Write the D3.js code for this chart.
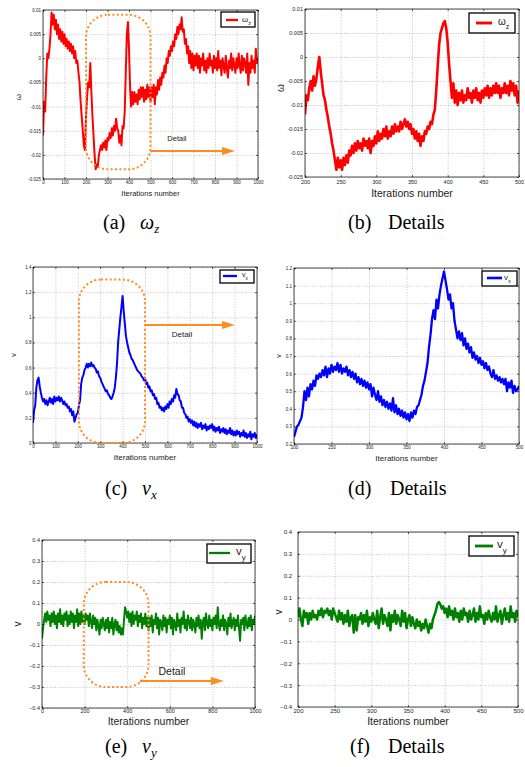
<!DOCTYPE html>
<html>
<head>
<meta charset="utf-8">
<script src="https://cdn.jsdelivr.net/npm/d3@7"></script>
<style>
  body { margin: 0; background: #fff; }
  svg { display: block; }
  .cap { font-family: "Liberation Serif", "Times New Roman", serif; }
</style>
</head>
<body>
<svg width="525" height="767"></svg>
<script>
// full runs: one sample every 5 iterations from 0 to 1000
// detail runs: one sample every 2 iterations from 200 to 500
const FULL_STEP = 5, DETAIL_START = 200, DETAIL_STEP = 2;

// omega_z, in units of 1e-3
const wzFull = [
  -16,-9,-11,-4,1,0,2,5,9.5,7,9,6,8,5,7,4,6,3.5,5.5,3,
  5,2.5,4,2,3.5,1.5,3,1,2.5,0,1.5,-1,-0.5,-3,-5,-9,-12,-15,-18,-19,
  -12,-8,-5,-6,-1,-7,-12,-16,-20,-23,-22,-22.5,-20,-19,-18,-19,-17.5,-18.5,-17,-19,
  -16.5,-17,-15.5,-16.5,-14.5,-16,-14,-15,-12.5,-14.5,-15,-17.5,-16,-18,-14,-14.5,-11,-3,5,7.5,
  2,-6,-10,-7,-9.5,-7,-9,-7.5,-9.5,-6.5,-8.5,-6,-8,-6,-9,-6.5,-8.5,-5.5,-8,-6,
  -9,-6,-8,-5.5,-9.5,-6,-7.5,-4.5,-6.5,-4,-5.5,-3,-4,-1.5,-3,0,-1,1.5,0.5,2.5,
  1.5,3.5,2.5,5,4,6.5,5,7,6,8.5,5.5,6,3,4,1,2.5,-1,1.5,-2,1,
  -2.5,0.5,-1.5,1,-2,0.5,-3,0,-1.5,1,-2.5,-0.5,-3,0,-2,1,-1.5,-0.5,-3,0.5,
  -2,0,-2.5,1.5,-2,-0.5,-3.5,0,-1.5,-3,0.5,-2,-4,-0.5,-2,1,-2.5,0,-1.5,-3,
  0,-2,1,-1.5,-3,0.5,-2.5,0,-1,-3,1,-5.5,-1,-3,0.5,-2,-0.5,-3,2,-1,
  0
];
const wzDetail = [
  -12,-8,-9,-6.5,-5,-7,-4,-6,-4.5,-2,
  0,-3,-5.5,-8,-9,-11,-12.5,-14.5,-16,-18,
  -19.5,-21.5,-23.5,-21,-23,-21.5,-23.5,-21,-22.5,-20.5,
  -22,-19.5,-20.5,-18.5,-20,-18,-19.5,-17.5,-19,-18,
  -19.5,-17,-18.5,-17.5,-19,-17,-20,-17.5,-18.5,-16.5,
  -18,-15.5,-17.5,-16,-17,-15,-16.5,-14.5,-17,-15.5,
  -16.5,-14.5,-16,-14,-15.5,-14.5,-15.5,-13.5,-15,-14,
  -13,-14.5,-13.5,-15,-14,-16,-15,-17,-15.5,-17.5,
  -16,-18.5,-16.5,-17.5,-15.5,-16,-14.5,-15,-13.5,-14,
  -12,-11,-7,-2,2.5,5,6,7,7.5,6,
  3,-1.5,-5,-8.5,-5.5,-9.5,-7,-10,-7.5,-9,
  -7,-9.5,-8,-9,-6.5,-8.5,-7.5,-9.5,-7,-8.5,
  -6.5,-9,-7.5,-9.5,-7,-8.5,-6.5,-8,-6,-8.5,
  -6.5,-8,-6,-7.5,-5.5,-7.5,-6,-8.5,-6.5,-7.5,
  -5.5,-7.5,-6,-8,-5,-7,-5.5,-8,-6,-9.5,
  -7
];

const vxFull = [
  0.16,0.26,0.3,0.44,0.5,0.52,0.45,0.4,0.36,0.33,0.35,0.31,0.34,0.3,0.33,0.36,0.32,0.35,0.31,0.37,
  0.33,0.36,0.34,0.37,0.33,0.36,0.34,0.31,0.33,0.3,0.31,0.28,0.29,0.25,0.27,0.22,0.25,0.17,0.2,0.23,
  0.24,0.3,0.34,0.47,0.52,0.54,0.58,0.6,0.63,0.6,0.63,0.61,0.64,0.61,0.62,0.6,0.59,0.56,0.57,0.53,
  0.52,0.49,0.47,0.45,0.43,0.41,0.42,0.39,0.38,0.36,0.35,0.37,0.4,0.44,0.52,0.63,0.8,0.9,1.0,1.08,
  1.17,1.05,0.95,0.85,0.8,0.76,0.72,0.7,0.67,0.66,0.64,0.62,0.6,0.58,0.57,0.56,0.55,0.53,0.52,0.5,
  0.52,0.47,0.48,0.44,0.45,0.41,0.42,0.38,0.39,0.35,0.36,0.31,0.32,0.28,0.29,0.26,0.28,0.25,0.29,0.27,
  0.31,0.28,0.33,0.31,0.35,0.33,0.38,0.36,0.43,0.39,0.38,0.34,0.33,0.28,0.28,0.24,0.23,0.2,0.21,0.17,
  0.19,0.16,0.18,0.14,0.17,0.13,0.16,0.12,0.15,0.13,0.16,0.11,0.14,0.12,0.15,0.1,0.13,0.11,0.14,0.12,
  0.15,0.1,0.13,0.09,0.12,0.1,0.13,0.08,0.11,0.09,0.12,0.08,0.11,0.07,0.1,0.08,0.12,0.07,0.1,0.06,
  0.09,0.06,0.1,0.07,0.09,0.05,0.08,0.06,0.1,0.05,0.08,0.04,0.07,0.05,0.09,0.03,0.07,0.05,0.08,0.04,
  0.07
];
const vxDetail = [
  0.24,0.27,0.3,0.31,0.33,0.35,0.41,0.5,0.45,0.52,
  0.47,0.54,0.51,0.56,0.53,0.59,0.57,0.6,0.58,0.62,
  0.59,0.64,0.58,0.63,0.6,0.65,0.61,0.64,0.62,0.66,
  0.61,0.65,0.6,0.63,0.61,0.64,0.59,0.62,0.58,0.61,
  0.57,0.6,0.55,0.58,0.54,0.57,0.53,0.56,0.52,0.55,
  0.51,0.54,0.47,0.52,0.48,0.45,0.5,0.44,0.47,0.42,
  0.45,0.41,0.44,0.4,0.43,0.39,0.46,0.38,0.42,0.37,
  0.4,0.36,0.39,0.35,0.38,0.34,0.37,0.33,0.38,0.35,
  0.39,0.37,0.41,0.42,0.45,0.48,0.53,0.56,0.61,0.66,
  0.75,0.82,0.91,0.96,0.91,1.02,0.97,1.05,1.1,1.14,
  1.18,1.13,1.08,1.02,1.05,0.97,1.0,0.9,0.85,0.8,
  0.84,0.79,0.83,0.76,0.8,0.74,0.77,0.72,0.75,0.69,
  0.72,0.68,0.7,0.66,0.69,0.65,0.67,0.63,0.66,0.62,
  0.64,0.6,0.58,0.62,0.57,0.59,0.56,0.58,0.55,0.57,
  0.54,0.57,0.5,0.55,0.52,0.56,0.49,0.53,0.5,0.51,
  0.53
];

const vyFull = [
  -0.07,-0.02,0.02,0.05,0.01,0.06,0.02,0.04,-0.01,0.05,0.01,0.06,0.0,0.04,-0.02,0.05,0.01,0.07,0.0,0.04,
  -0.01,0.05,0.02,0.06,-0.01,0.04,0.0,0.06,0.01,0.05,-0.02,0.04,0.01,0.07,-0.01,0.05,0.0,0.06,0.01,0.04,
  0.0,0.05,0.02,0.04,-0.01,0.05,0.01,-0.02,0.04,0.0,0.03,-0.03,0.02,-0.01,-0.05,0.02,-0.02,0.03,0.0,-0.03,
  0.02,-0.02,0.03,-0.04,0.01,-0.02,0.03,-0.05,0.0,0.02,-0.03,0.01,-0.04,-0.01,-0.05,-0.02,-0.05,0.02,0.08,0.06,
  0.03,0.06,0.01,0.05,-0.01,0.06,0.0,0.04,0.02,0.06,-0.01,0.04,0.01,0.05,-0.02,0.03,0.0,0.05,-0.01,0.03,
  -0.03,0.03,-0.01,0.04,-0.04,0.02,0.0,0.05,-0.02,0.03,-0.05,0.02,0.01,-0.03,0.04,-0.01,0.03,-0.04,0.02,0.0,
  0.04,-0.02,0.03,-0.05,0.02,0.0,-0.03,0.05,-0.01,0.02,-0.04,0.03,0.0,0.06,-0.02,0.02,-0.03,0.04,0.01,-0.02,
  0.03,-0.03,0.02,0.0,-0.04,0.03,-0.01,0.04,-0.02,0.02,-0.07,0.01,0.03,-0.03,0.05,0.0,-0.02,0.04,-0.01,0.02,
  -0.03,0.03,0.0,0.04,-0.02,0.08,0.0,-0.03,0.02,-0.01,0.04,-0.03,0.02,0.0,-0.05,0.03,-0.01,0.05,-0.02,0.01,
  0.03,-0.03,0.02,-0.01,0.04,-0.02,-0.08,0.02,0.0,0.03,-0.03,0.04,0.0,-0.02,0.03,-0.01,0.04,-0.03,0.02,0.0,
  0.04
];
const vyDetail = [
  0.01,0.05,0.0,-0.03,0.04,0.01,0.03,-0.02,0.03,0.0,
  0.04,0.01,0.02,0.0,0.04,0.02,0.05,0.01,0.04,0.03,
  0.05,0.02,0.04,0.0,0.05,0.03,0.01,-0.01,0.04,0.0,
  0.03,-0.02,0.02,-0.01,0.04,-0.03,0.01,0.02,-0.06,0.02,
  -0.05,0.01,0.0,0.03,-0.02,0.02,-0.01,0.04,-0.03,0.01,
  -0.01,0.03,0.0,-0.02,0.04,-0.04,0.01,0.05,-0.02,0.02,
  0.0,-0.03,0.03,-0.05,0.02,-0.01,0.04,-0.02,0.02,0.0,
  -0.03,0.04,-0.01,0.03,-0.04,0.0,0.02,-0.03,0.01,-0.02,
  -0.04,0.0,-0.03,-0.01,-0.05,-0.02,-0.04,0.0,-0.03,-0.06,
  -0.02,-0.04,0.0,0.02,0.04,0.07,0.08,0.07,0.05,0.06,
  0.03,0.05,0.01,0.06,0.02,0.04,0.0,0.05,0.01,0.03,
  -0.01,0.04,0.0,0.05,0.02,0.03,-0.01,0.04,0.0,0.02,
  0.05,-0.01,0.03,0.0,0.06,0.01,0.02,-0.02,0.03,0.0,
  0.04,0.01,-0.01,0.03,0.0,0.06,-0.01,0.02,0.04,-0.02,
  0.02,0.05,0.0,0.03,-0.01,0.06,0.01,0.03,-0.01,0.04,
  0.01
];

// tick values
const xTicksFull = d3.range(0, 1001, 100);
const xTicksFullE = d3.range(0, 1001, 200);
const xTicksDetail = d3.range(200, 501, 50);
const wTicks = d3.range(-25, 11, 5).map(v => v / 1000);
const vxTicksFull = d3.range(0, 15, 2).map(v => v / 10);
const vxTicksDetail = d3.range(2, 13).map(v => v / 10);
const vyTicks = d3.range(-4, 5).map(v => v / 10);

const RED = '#ff0000', BLUE = '#0000ff', GREEN = '#008000', ORANGE = '#ff8c1e';
const SANS = '"Liberation Sans", Arial, Helvetica, sans-serif';

let panels = [
  { id: 'a', box: [43, 10, 258, 179], xd: [0, 1000], yd: [-0.025, 0.01], xt: xTicksFull, yt: wTicks,
    values: wzFull.map(v => v / 1000), start: 0, step: FULL_STEP, color: RED, lw: 2,
    tickFs: 4.5, xPad: 2, yPad: 2, xlab: { fs: 7.5, y: 196 }, ylab: { t: 'ω', x: 21, y: 97, fs: 8 },
    legend: { box: [221, 12, 255, 27], line: [226, 238], ly: 20, lx: 242, fs: 8, main: 'ω', sub: 'z' },
    note: { x: [200, 500], y: [0.009, -0.023], ax: [500, 893], ay: -0.0192, tx: 623, ty: -0.0171, fs: 7.5 } },
  { id: 'b', box: [305, 9, 519, 177], xd: [200, 500], yd: [-0.025, 0.01], xt: xTicksDetail, yt: wTicks,
    values: wzDetail.map(v => v / 1000), start: DETAIL_START, step: DETAIL_STEP, color: RED, lw: 2.6,
    tickFs: 5.5, xPad: 3, yPad: 2, xlab: { fs: 10.5, y: 197 }, ylab: { t: 'ω', x: 284, y: 88, fs: 10 },
    legend: { box: [469, 13, 515, 33], line: [476, 492], ly: 23, lx: 498, fs: 10, main: 'ω', sub: 'z' } },
  { id: 'c', box: [33, 267, 257, 443], xd: [0, 1000], yd: [0, 1.4], xt: xTicksFull, yt: vxTicksFull,
    values: vxFull, start: 0, step: FULL_STEP, color: BLUE, lw: 2,
    tickFs: 4.5, xPad: 2, yPad: 1.5, xlab: { fs: 8, y: 460 }, ylab: { t: 'v', x: 16, y: 355, fs: 7 },
    legend: { box: [220, 270, 254, 283], line: [223, 237], ly: 276, lx: 242, fs: 7, main: 'v', sub: 'x' },
    note: { x: [205, 500], y: [1.3, 0], ax: [500, 902], ay: 0.939, tx: 665, ty: 0.843, fs: 8 } },
  { id: 'd', box: [294, 268, 519, 444], xd: [200, 500], yd: [0.2, 1.2], xt: xTicksDetail, yt: vxTicksDetail,
    values: vxDetail, start: DETAIL_START, step: DETAIL_STEP, color: BLUE, lw: 2.3,
    tickFs: 4.5, xPad: 2, yPad: 2, xlab: { fs: 8, y: 461 }, ylab: { t: 'v', x: 281, y: 356, fs: 7 },
    legend: { box: [482, 271, 517, 286], line: [487, 502], ly: 278, lx: 504, fs: 8, main: 'v', sub: 'x' } },
  { id: 'e', box: [42, 540, 255, 708], xd: [0, 1000], yd: [-0.4, 0.4], xt: xTicksFullE, yt: vyTicks,
    values: vyFull, start: 0, step: FULL_STEP, color: GREEN, lw: 2, minus: true,
    tickFs: 5.5, xPad: 1.5, yPad: 2, xlab: { fs: 10.5, y: 725 }, ylab: { t: 'v', x: 21, y: 624, fs: 10 },
    legend: { box: [207, 544, 251, 563], line: [209, 230], ly: 553, lx: 236, fs: 11.5, main: 'v', sub: 'y' },
    note: { x: [196, 500], y: [0.2, -0.3], ax: [460, 854], ay: -0.271, tx: 610, ty: -0.243, fs: 10.5 } },
  { id: 'f', box: [298, 532, 518, 707], xd: [200, 500], yd: [-0.4, 0.4], xt: xTicksDetail, yt: vyTicks,
    values: vyDetail, start: DETAIL_START, step: DETAIL_STEP, color: GREEN, lw: 2.5, minus: true,
    tickFs: 6, xPad: 2, yPad: 6, xlab: { fs: 10.5, y: 725 }, ylab: { t: 'v', x: 282, y: 612, fs: 10 },
    legend: { box: [469, 536, 514, 556], line: [475, 493], ly: 546, lx: 497, fs: 11.5, main: 'v', sub: 'y' } }
];

let captions = [
  { x: 103, y: 229, tag: '(a)', x2: 140, main: 'ω', sub: 'z' },
  { x: 348, y: 229, tag: '(b)', x2: 388, main: 'Details' },
  { x: 105, y: 495, tag: '(c)', x2: 142, main: 'v', sub: 'x' },
  { x: 348, y: 495, tag: '(d)', x2: 390, main: 'Details' },
  { x: 105, y: 753, tag: '(e)', x2: 142, main: 'v', sub: 'y' },
  { x: 350, y: 753, tag: '(f)', x2: 388, main: 'Details' }
];

let svg = d3.select('svg');

function fmtTick(d, minus) {
  let s = String(+d.toFixed(4));
  return minus ? s.replace('-', '\u2212') : s;
}

function drawPanel(p) {
  let [x0, y0, x1, y1] = p.box;
  let sx = d3.scaleLinear().domain(p.xd).range([x0, x1]);
  let sy = d3.scaleLinear().domain(p.yd).range([y1, y0]);
  let g = svg.append('g').attr('class', 'panel-' + p.id);

  // dotted grid
  let gx = g.append('g').attr('transform', `translate(0,${y1})`)
    .call(d3.axisBottom(sx).tickValues(p.xt).tickSize(-(y1 - y0)).tickFormat(''));
  let gy = g.append('g').attr('transform', `translate(${x0},0)`)
    .call(d3.axisLeft(sy).tickValues(p.yt).tickSize(-(x1 - x0)).tickFormat(''));
  [gx, gy].forEach(a => {
    a.select('.domain').remove();
    a.selectAll('line').attr('stroke', '#9c9c9c').attr('stroke-width', 0.6).attr('stroke-dasharray', '1,1.6');
  });

  // data line
  svg.append('clipPath').attr('id', 'clip-' + p.id)
    .append('rect').attr('x', x0).attr('y', y0).attr('width', x1 - x0).attr('height', y1 - y0);
  let line = d3.line()
    .x((v, i) => sx(p.start + i * p.step))
    .y(v => sy(v));
  g.append('path')
    .datum(p.values)
    .attr('d', line)
    .attr('fill', 'none')
    .attr('stroke', p.color)
    .attr('stroke-width', p.lw)
    .attr('stroke-linejoin', 'round')
    .attr('clip-path', `url(#clip-${p.id})`);

  // frame
  g.append('rect').attr('x', x0).attr('y', y0).attr('width', x1 - x0).attr('height', y1 - y0)
    .attr('fill', 'none').attr('stroke', '#000').attr('stroke-width', 0.7);

  // axes with inward ticks
  let ax = g.append('g').attr('transform', `translate(0,${y1})`)
    .call(d3.axisBottom(sx).tickValues(p.xt).tickSizeInner(-2).tickSizeOuter(0).tickPadding(p.xPad)
      .tickFormat(d => fmtTick(d, p.minus)));
  let ay = g.append('g').attr('transform', `translate(${x0},0)`)
    .call(d3.axisLeft(sy).tickValues(p.yt).tickSizeInner(-2).tickSizeOuter(0).tickPadding(p.yPad)
      .tickFormat(d => fmtTick(d, p.minus)));
  let axTop = g.append('g').attr('transform', `translate(0,${y0})`)
    .call(d3.axisTop(sx).tickValues(p.xt).tickSizeInner(-2).tickSizeOuter(0).tickFormat(''));
  let ayRight = g.append('g').attr('transform', `translate(${x1},0)`)
    .call(d3.axisRight(sy).tickValues(p.yt).tickSizeInner(-2).tickSizeOuter(0).tickFormat(''));
  [ax, ay, axTop, ayRight].forEach(a => {
    a.select('.domain').remove();
    a.attr('font-size', p.tickFs).attr('font-family', SANS);
    a.selectAll('line').attr('stroke', '#000').attr('stroke-width', 0.6);
    a.selectAll('text').attr('fill', '#222');
  });

  // axis titles
  g.append('text')
    .attr('x', (x0 + x1) / 2).attr('y', p.xlab.y)
    .attr('text-anchor', 'middle')
    .attr('font-family', SANS).attr('font-size', p.xlab.fs).attr('fill', '#222')
    .text('Iterations number');
  g.append('text')
    .attr('transform', `translate(${p.ylab.x},${p.ylab.y}) rotate(-90)`)
    .attr('text-anchor', 'middle')
    .attr('font-family', SANS).attr('font-size', p.ylab.fs).attr('fill', '#222')
    .text(p.ylab.t);

  // legend
  let lg = p.legend;
  g.append('rect')
    .attr('x', lg.box[0]).attr('y', lg.box[1])
    .attr('width', lg.box[2] - lg.box[0]).attr('height', lg.box[3] - lg.box[1])
    .attr('fill', '#fff').attr('stroke', '#000').attr('stroke-width', 1.3);
  g.append('line')
    .attr('x1', lg.line[0]).attr('x2', lg.line[1]).attr('y1', lg.ly).attr('y2', lg.ly)
    .attr('stroke', p.color).attr('stroke-width', p.lw + 0.3);
  let lt = g.append('text')
    .attr('x', lg.lx).attr('y', lg.ly + lg.fs * 0.2)
    .attr('font-family', SANS).attr('font-size', lg.fs).attr('fill', '#222');
  lt.append('tspan').text(lg.main);
  lt.append('tspan').attr('dy', lg.fs * 0.4).attr('font-size', lg.fs * 0.7).text(lg.sub);

  // "Detail" call-out
  if (p.note) {
    let n = p.note;
    g.append('rect')
      .attr('x', sx(n.x[0])).attr('y', sy(n.y[0]))
      .attr('width', sx(n.x[1]) - sx(n.x[0])).attr('height', sy(n.y[1]) - sy(n.y[0]))
      .attr('rx', 22).attr('ry', 22)
      .attr('fill', 'none').attr('stroke', ORANGE).attr('stroke-width', 2)
      .attr('stroke-dasharray', '2,2.4');
    let ayPix = sy(n.ay), tip = sx(n.ax[1]), hl = 13, hw = 4;
    g.append('line')
      .attr('x1', sx(n.ax[0])).attr('x2', tip - hl + 1).attr('y1', ayPix).attr('y2', ayPix)
      .attr('stroke', ORANGE).attr('stroke-width', 2);
    g.append('path')
      .attr('d', `M${tip},${ayPix}L${tip - hl},${ayPix - hw}L${tip - hl},${ayPix + hw}Z`)
      .attr('fill', ORANGE);
    g.append('text')
      .attr('x', sx(n.tx)).attr('y', sy(n.ty))
      .attr('text-anchor', 'middle')
      .attr('font-family', SANS).attr('font-size', n.fs).attr('fill', '#222')
      .text('Detail');
  }
}

panels.forEach(drawPanel);

// sub-figure captions
captions.forEach(c => {
  let t = svg.append('text').attr('class', 'cap').attr('y', c.y).attr('font-size', 20).attr('fill', '#000');
  t.append('tspan').attr('x', c.x).text(c.tag);
  if (c.sub) {
    t.append('tspan').attr('x', c.x2).attr('font-style', 'italic').text(c.main);
    t.append('tspan').attr('dy', 4).attr('font-size', 13).attr('font-style', 'italic').text(c.sub);
  } else {
    t.append('tspan').attr('x', c.x2).text(c.main);
  }
});
</script>
</body>
</html>
